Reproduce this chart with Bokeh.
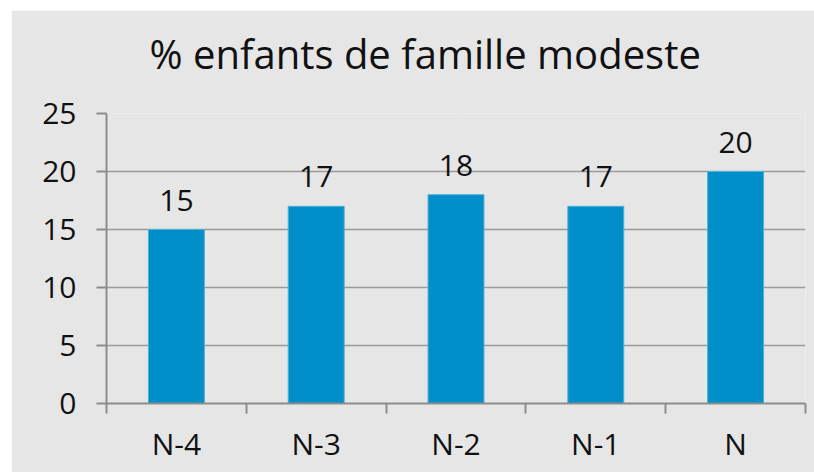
from bokeh.plotting import figure
from bokeh.models import ColumnDataSource, FixedTicker, LabelSet, LinearAxis, Range1d
from bokeh.core.properties import value
from bokeh.embed import file_html
from bokeh.resources import INLINE

categories = ["N-4", "N-3", "N-2", "N-1", "N"]
values = [15, 17, 18, 17, 20]
y_ticks = [0, 5, 10, 15, 20, 25]
title_text = "% enfants de famille modeste"

FONT = "Open Sans"
GRAY_BG = "#e6e6e6"
AXIS_COL = "#8c8c8c"

xpos = [i + 0.5 for i in range(len(categories))]
src = ColumnDataSource(dict(x=xpos, top=values, lbl=[str(v) for v in values]))

p = figure(width=803, height=462, output_backend="svg", toolbar_location=None,
           x_range=Range1d(0, len(categories)), y_range=Range1d(0, 25),
           min_border_left=95, min_border_right=9, min_border_top=0, min_border_bottom=69,
           background_fill_color=GRAY_BG, border_fill_color=GRAY_BG,
           outline_line_color=None, margin=(10, 0, 0, 11))

# spacer axis (drawn in the background colour) between title and frame
spacer_tick = [len(categories) / 2]
spacer = LinearAxis(ticker=FixedTicker(ticks=spacer_tick),
                    major_label_overrides={spacer_tick[0]: ""},
                    axis_line_color=None,
                    major_tick_line_color=GRAY_BG, minor_tick_line_color=None,
                    major_tick_out=20, major_tick_in=0, minor_tick_out=0,
                    major_label_standoff=0)
p.add_layout(spacer, "above")

p.title.text = title_text
p.title.align = "left"
p.title.offset = 43
p.title.vertical_align = "bottom"
p.title.standoff = 26
p.title.text_font = FONT
p.title.text_font_size = "40px"
p.title.text_font_style = "normal"
p.title.text_color = "#111111"

p.vbar(x="x", top="top", width=0.4, source=src, fill_color="#008fc9",
       line_color="#4fb0da", line_width=1)

labels = LabelSet(x="x", y="top", text="lbl", source=src, y_offset=19,
                  text_align="center", text_baseline="alphabetic",
                  text_font=value(FONT), text_font_size=value("30px"), text_color="#111111")
p.add_layout(labels)

# y axis
p.yaxis.ticker = FixedTicker(ticks=y_ticks)
p.yaxis.axis_line_color = AXIS_COL
p.yaxis.axis_line_width = 2
p.yaxis.major_tick_line_color = AXIS_COL
p.yaxis.major_tick_line_width = 2
p.yaxis.major_tick_out = 10
p.yaxis.major_tick_in = 0
p.yaxis.minor_tick_line_color = None
p.yaxis.major_label_text_font = FONT
p.yaxis.major_label_text_font_size = "30px"
p.yaxis.major_label_text_color = "#111111"
p.yaxis.major_label_standoff = 20

# x axis
xa = p.below[0]
xa.ticker = FixedTicker(ticks=xpos, minor_ticks=list(range(len(categories) + 1)))
xa.major_label_overrides = {x: c for x, c in zip(xpos, categories)}
xa.axis_line_color = AXIS_COL
xa.axis_line_width = 2
xa.major_tick_line_color = None
xa.minor_tick_line_color = AXIS_COL
xa.minor_tick_line_width = 2
xa.minor_tick_out = 10
xa.minor_tick_in = 0
xa.major_label_text_font = FONT
xa.major_label_text_font_size = "30px"
xa.major_label_text_color = "#111111"
xa.major_label_standoff = 9

p.xgrid.grid_line_color = None
p.ygrid.ticker = FixedTicker(ticks=y_ticks[1:])
p.ygrid.grid_line_color = "#9a9a9a"
p.ygrid.grid_line_width = 1.5

open("out.html", "w").write(file_html(p, INLINE))
